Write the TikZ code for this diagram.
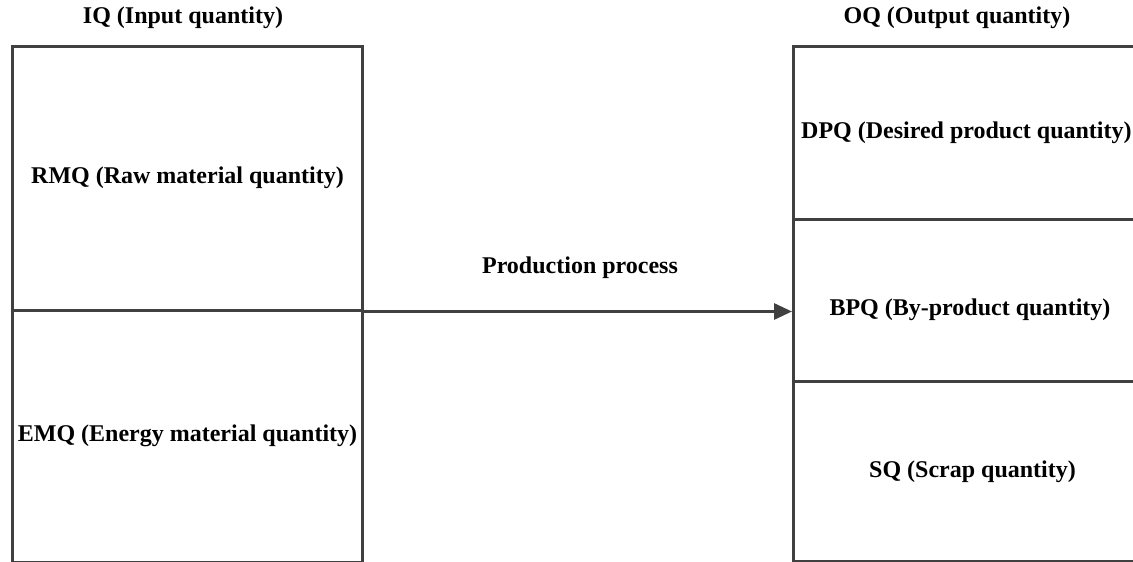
\documentclass[tikz,border=0pt]{standalone}
\usepackage{fontspec}
\setmainfont{Liberation Serif}
\usetikzlibrary{arrows.meta}
\definecolor{edge}{HTML}{404040}
\begin{document}
\begin{tikzpicture}[x=1pt,y=-1pt,
  cell/.style={draw=edge, line width=3pt, rectangle, inner sep=0pt, anchor=north west},
  lbl/.style={font=\fontsize{24}{28}\selectfont\bfseries, text=black, inner sep=0pt},
  flow/.style={draw=edge, line width=3pt, -{Triangle[length=18pt,width=16pt]}}]
\useasboundingbox (0,0) rectangle (1133,562);
\clip (0,0) rectangle (1133,562);
% input side
\node[cell, minimum width=350pt, minimum height=263.5pt] (rmq) at (11,45) {};
\node[cell, minimum width=350pt, minimum height=252.5pt] (emq) at (11,308.5) {};
% output side
\node[cell, minimum width=358pt, minimum height=173pt] (dpq) at (792,45) {};
\node[cell, minimum width=358pt, minimum height=162pt] (bpq) at (792,218) {};
\node[cell, minimum width=358pt, minimum height=180pt] (sq) at (792,380) {};
% headings and labels
\node[lbl] (iq) at (183,18) {IQ (Input quantity)};
\node[lbl] (oq) at (957,18) {OQ (Output quantity)};
\node[lbl] at (rmq.center) {RMQ (Raw material quantity)};
\node[lbl] at (emq.center) {EMQ (Energy material quantity)};
\node[lbl, anchor=west] (dpqt) at (801,133) {DPQ (Desired product quantity)};
\node[lbl] (bpqt) at (970,310) {BPQ (By-product quantity)};
\node[lbl] at (sq.center) {SQ (Scrap quantity)};
% production flow
\coordinate (start) at (rmq.south east);
\coordinate (stop) at (bpq.west |- start);
\draw[flow] (start) -- (stop);
\node[lbl] (pp) at (580,268) {Production process};
\end{tikzpicture}
\end{document}
